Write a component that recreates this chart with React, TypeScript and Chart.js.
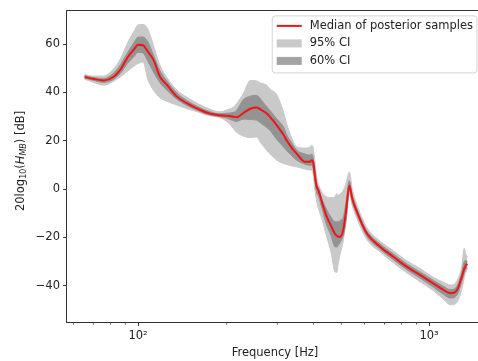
import React, { useEffect, useRef } from 'react';
import { Chart, registerables } from 'chart.js';

Chart.register(...registerables);

// ---------------- data ----------------
const freqHz = [65.5, 70, 76, 82, 87, 92, 97, 100, 104, 108, 113, 119, 126, 136, 147, 160, 175, 191, 202, 213, 218, 230, 243, 256, 263, 277, 284, 300, 316, 324, 338, 351, 375, 390, 395, 400, 405, 411, 417, 430, 445, 460, 475, 482, 488, 495, 508, 520, 532, 545, 564, 611, 679, 754, 838, 931, 1034, 1120, 1185, 1245, 1295, 1321, 1340, 1355];

const median = [46.4, 45.7, 45.0, 46.3, 49.5, 54.5, 58.0, 59.8, 59.6, 57.0, 53.5, 46.5, 43.0, 38.3, 35.6, 33.3, 31.4, 30.6, 30.4, 30.0, 29.8, 31.5, 33.3, 33.8, 33.0, 31.3, 29.9, 26.4, 22.5, 20.2, 17.0, 14.7, 11.3, 11.3, 12.0, 11.0, 6.0, 1.0, -0.5, -6.0, -11.4, -15.0, -18.5, -19.3, -19.7, -19.7, -16.5, -8.0, 1.5, -4.0, -9.0, -18.3, -23.8, -28.0, -32.1, -35.5, -39.0, -41.7, -43.1, -42.0, -36.5, -33.0, -31.4, -31.0];

const ci95Upper = [47.5, 46.8, 46.8, 49.5, 54.0, 60.5, 65.5, 68.0, 68.2, 66.4, 59.5, 51.2, 46.0, 41.0, 38.1, 35.5, 33.3, 32.0, 32.8, 34.0, 35.4, 39.5, 45.0, 44.8, 44.0, 43.0, 41.5, 39.0, 32.0, 27.1, 21.0, 17.5, 17.0, 17.5, 18.2, 17.0, 12.0, 5.0, 2.0, -1.5, -3.2, -3.5, -3.2, -1.8, -2.5, -2.0, -0.4, 3.0, 7.1, 0.0, -6.0, -15.8, -21.5, -25.5, -29.6, -32.8, -36.5, -38.5, -39.7, -38.0, -32.1, -24.5, -27.0, -28.0];

const ci95Lower = [45.5, 44.3, 43.0, 44.5, 46.5, 48.8, 51.0, 52.0, 52.6, 45.5, 41.0, 37.8, 36.3, 34.8, 33.3, 32.0, 30.5, 29.6, 28.0, 25.0, 23.5, 22.0, 21.3, 21.6, 19.5, 16.0, 14.7, 12.0, 10.6, 10.2, 9.6, 9.2, 8.3, 7.9, 7.8, 6.0, 0.0, -5.0, -8.0, -13.0, -19.7, -26.0, -34.2, -34.5, -30.7, -27.0, -21.0, -12.0, -1.8, -7.0, -12.0, -20.8, -26.0, -30.5, -34.6, -38.3, -42.0, -45.5, -47.9, -47.0, -41.7, -37.0, -34.0, -34.5];

const ci60Upper = [47.0, 46.2, 45.8, 47.8, 51.5, 56.5, 60.8, 62.9, 63.0, 61.0, 55.4, 49.0, 44.6, 39.8, 36.7, 34.2, 32.2, 31.2, 31.4, 31.8, 32.5, 37.0, 38.5, 38.8, 37.5, 34.0, 32.6, 29.0, 25.7, 22.5, 19.0, 16.1, 14.5, 14.0, 14.5, 13.0, 8.5, 2.5, 0.5, -4.5, -8.5, -11.5, -13.5, -13.5, -13.5, -13.0, -11.4, -4.5, 3.5, -2.5, -7.8, -17.2, -22.7, -26.8, -30.9, -34.3, -37.7, -40.2, -41.6, -40.3, -34.5, -30.0, -29.5, -30.0];

const ci60Lower = [45.9, 45.1, 44.2, 45.3, 48.0, 52.0, 55.0, 56.7, 56.4, 53.0, 48.5, 44.0, 40.8, 37.2, 34.7, 32.6, 30.8, 30.0, 29.4, 28.3, 28.0, 29.0, 28.8, 28.5, 27.5, 25.5, 24.4, 20.5, 17.5, 16.0, 13.8, 12.0, 10.3, 9.9, 10.0, 8.5, 3.5, -1.5, -3.0, -8.5, -14.9, -19.0, -23.8, -24.0, -23.1, -22.0, -19.0, -12.0, -0.5, -5.5, -10.3, -19.4, -24.9, -29.2, -33.3, -36.8, -40.5, -43.5, -45.1, -44.0, -38.5, -35.0, -33.0, -33.0];

const yTicks = [-40, -20, 0, 20, 40, 60];
const xMajorTicks = [100, 1000];
const xMajorLabels = ['10²', '10³'];
const xMinorTicks = [60, 70, 80, 90, 200, 300, 400, 500, 600, 700, 800, 900];
const legendLabels = ['Median of posterior samples', '95% CI', '60% CI'];
const xTitle = 'Frequency [Hz]';
const yTitleParts = [
  { text: '20log', sub: false, italic: false },
  { text: '10', sub: true, italic: false },
  { text: '(', sub: false, italic: false },
  { text: 'H', sub: false, italic: true },
  { text: 'MB', sub: true, italic: true },
  { text: ') [dB]', sub: false, italic: false },
];

// ---------------- styles ----------------
const FAMILY = "'DejaVu Sans', sans-serif";
const FS = 11.5;
const SUB_FS = 8;
const C95 = '#c9c9c9';
const C60 = '#939393';
const C60_LEGEND = '#a3a3a3';
const RED = '#f01414';
const INK = '#222222';
const FRAME = '#333333';

const pts = (arr: number[]) => freqHz.map((f, i) => ({ x: f, y: arr[i] }));

const decorPlugin = {
  id: 'decor',
  afterDraw(chart: any) {
    const { ctx, chartArea: a, scales } = chart;
    ctx.save();
    // frame
    ctx.strokeStyle = FRAME;
    ctx.lineWidth = 1;
    ctx.strokeRect(Math.round(a.left) - 0.5, Math.round(a.top) + 0.5, Math.round(a.right - a.left), Math.round(a.bottom - a.top));
    // minor x ticks
    const xs = scales.x;
    ctx.lineWidth = 0.8;
    for (const v of xMinorTicks) {
      const px = Math.round(xs.getPixelForValue(v)) + 0.5;
      ctx.beginPath();
      ctx.moveTo(px, a.bottom);
      ctx.lineTo(px, a.bottom + 2.5);
      ctx.stroke();
    }
    // x title
    ctx.fillStyle = INK;
    ctx.font = `${FS}px ${FAMILY}`;
    ctx.textAlign = 'center';
    ctx.textBaseline = 'middle';
    ctx.fillText(xTitle, (a.left + a.right) / 2, 353);

    // y title (rotated, with subscripts)
    const fontFor = (p: any) => `${p.italic ? 'italic ' : ''}${p.sub ? SUB_FS : FS}px ${FAMILY}`;
    let total = 0;
    const widths = yTitleParts.map((p) => {
      ctx.font = fontFor(p);
      const w = ctx.measureText(p.text).width;
      total += w;
      return w;
    });
    ctx.save();
    ctx.translate(21, (a.top + a.bottom) / 2 - 5);
    ctx.rotate(-Math.PI / 2);
    ctx.textAlign = 'left';
    ctx.textBaseline = 'middle';
    let cx = -total / 2;
    yTitleParts.forEach((p, i) => {
      ctx.font = fontFor(p);
      ctx.fillText(p.text, cx, p.sub ? 3 : 0);
      cx += widths[i];
    });
    ctx.restore();

    // legend
    ctx.font = `${FS}px ${FAMILY}`;
    const textW = Math.max(...legendLabels.map((t) => ctx.measureText(t).width));
    const boxW = 4.5 + 25 + 8 + textW + 4;
    const boxH = 57;
    const right = a.right - 6;
    const left = right - boxW;
    const top = a.top + 6;
    const r = 3;
    ctx.beginPath();
    ctx.moveTo(left + r, top);
    ctx.lineTo(right - r, top);
    ctx.arcTo(right, top, right, top + r, r);
    ctx.lineTo(right, top + boxH - r);
    ctx.arcTo(right, top + boxH, right - r, top + boxH, r);
    ctx.lineTo(left + r, top + boxH);
    ctx.arcTo(left, top + boxH, left, top + boxH - r, r);
    ctx.lineTo(left, top + r);
    ctx.arcTo(left, top, left + r, top, r);
    ctx.closePath();
    ctx.fillStyle = 'rgba(255,255,255,0.85)';
    ctx.fill();
    ctx.strokeStyle = '#d4d4d4';
    ctx.lineWidth = 1;
    ctx.stroke();

    const px0 = left + 4.5;
    const rows = [top + 10, top + 27.5, top + 45];
    // median line
    ctx.strokeStyle = RED;
    ctx.lineWidth = 2;
    ctx.beginPath();
    ctx.moveTo(px0, rows[0]);
    ctx.lineTo(px0 + 25, rows[0]);
    ctx.stroke();
    // patches
    ctx.fillStyle = C95;
    ctx.fillRect(px0, rows[1] - 4, 25, 8);
    ctx.fillStyle = C60_LEGEND;
    ctx.fillRect(px0, rows[2] - 4, 25, 8);
    // texts
    ctx.fillStyle = INK;
    ctx.textAlign = 'left';
    ctx.textBaseline = 'middle';
    legendLabels.forEach((t, i) => ctx.fillText(t, px0 + 33, rows[i]));
    ctx.restore();
  },
};

export default function App() {
  const ref = useRef<HTMLCanvasElement | null>(null);

  useEffect(() => {
    if (!ref.current) return;
    const band = (data: number[], color: string, fill: any, order: number) => ({
      data: pts(data),
      fill,
      backgroundColor: color,
      borderColor: color,
      borderWidth: 1,
      pointRadius: 0,
      cubicInterpolationMode: 'monotone',
      order,
    });
    const chart = new Chart(ref.current, {
      type: 'line',
      data: {
        datasets: [
          band(ci95Upper, C95, '+1', 3),
          band(ci95Lower, C95, false, 3),
          band(ci60Upper, C60, '+1', 2),
          band(ci60Lower, C60, false, 2),
          {
            data: pts(median),
            fill: false,
            borderColor: RED,
            backgroundColor: RED,
            borderWidth: 2,
            pointRadius: 0,
            cubicInterpolationMode: 'monotone',
            order: 1,
          },
        ],
      } as any,
      options: {
        animation: false,
        responsive: false,
        maintainAspectRatio: false,
        devicePixelRatio: 1,
        layout: { padding: { top: 9, right: 3, left: 0, bottom: 0 } },
        plugins: {
          legend: { display: false },
          tooltip: { enabled: false },
        },
        scales: {
          x: {
            type: 'logarithmic',
            min: 57,
            max: 1533,
            bounds: 'data',
            afterBuildTicks: (s: any) => {
              s.ticks = xMajorTicks.map((v) => ({ value: v }));
            },
            afterFit: (s: any) => {
              s.height = 39;
            },
            grid: { display: true, drawOnChartArea: false, drawTicks: true, tickLength: 4, tickColor: FRAME, tickWidth: 1 },
            border: { display: false },
            ticks: {
              autoSkip: false,
              maxRotation: 0,
              padding: 3,
              color: INK,
              font: { family: FAMILY, size: FS },
              callback: (v: any) => {
                const i = xMajorTicks.indexOf(Number(v));
                return i >= 0 ? xMajorLabels[i] : '';
              },
            },
          },
          y: {
            type: 'linear',
            min: -55,
            max: 74.2,
            bounds: 'data',
            afterBuildTicks: (s: any) => {
              s.ticks = yTicks.map((v) => ({ value: v }));
            },
            afterFit: (s: any) => {
              s.width = 67;
            },
            grid: { display: true, drawOnChartArea: false, drawTicks: true, tickLength: 4, tickColor: FRAME, tickWidth: 1 },
            border: { display: false },
            ticks: {
              padding: 3,
              color: INK,
              font: { family: FAMILY, size: FS },
              callback: (v: any) => String(v).replace('-', '\u2212'),
            },
          },
        },
      } as any,
      plugins: [decorPlugin],
    });
    return () => chart.destroy();
  }, []);

  return (
    <div style={{ position: 'fixed', left: 0, top: 0, width: 478, height: 361, overflow: 'hidden', background: '#fff' }}>
      <canvas ref={ref} width={486} height={361} style={{ display: 'block', width: 486, height: 361 }} />
    </div>
  );
}
